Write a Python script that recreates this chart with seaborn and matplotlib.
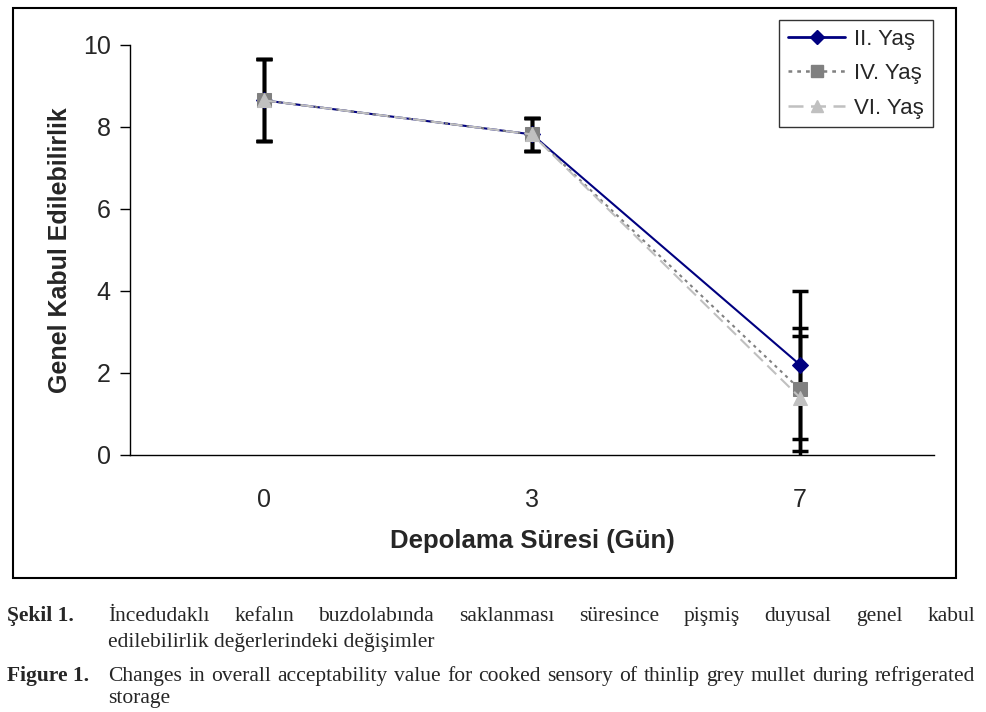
import numpy as np
import pandas as pd
import matplotlib
matplotlib.use("Agg")
import matplotlib.pyplot as plt
import seaborn as sns
from matplotlib.patches import Rectangle
from matplotlib.lines import Line2D

# data
days = ["0", "3", "7"]
series_names = ["II. Yaş", "IV. Yaş", "VI. Yaş"]
ii_vals = [8.65, 7.82, 2.2]
iv_vals = [8.65, 7.82, 1.6]
vi_vals = [8.65, 7.82, 1.4]
ii_err = [1.0, 0.4, 1.8]
iv_err = [1.0, 0.4, 1.5]
vi_err = [1.0, 0.4, 1.5]

caption_tr_1 = "İncedudaklı kefalın buzdolabında saklanması süresince pişmiş duyusal genel kabul"
caption_tr_2 = "edilebilirlik değerlerindeki değişimler"
caption_en_1 = "Changes in overall acceptability value for cooked sensory of thinlip grey mullet during refrigerated"
caption_en_2 = "storage"

sns.set_style("white")
plt.rcParams["font.family"] = ["Liberation Sans", "DejaVu Sans"]

pos = np.arange(len(days)) + 0.5
rows = []
for name, vals in zip(series_names, [ii_vals, iv_vals, vi_vals]):
    for p, v in zip(pos, vals):
        rows.append({"pos": p, "val": v, "seri": name})
df = pd.DataFrame(rows)

colors = {"II. Yaş": "#000080", "IV. Yaş": "#808080", "VI. Yaş": "#C0C0C0"}
markers = {"II. Yaş": "D", "IV. Yaş": "s", "VI. Yaş": "^"}
dashes = {"II. Yaş": "", "IV. Yaş": (1.5, 2.0), "VI. Yaş": (6, 3)}
msize = {"II. Yaş": 8, "IV. Yaş": 10, "VI. Yaş": 10}

fig = plt.figure(figsize=(9.86, 7.12), dpi=100)
W, H = 986, 712
ax = fig.add_axes([130 / W, 1 - 455 / H, (934 - 130) / W, (455 - 45) / H])

# error bars first, behind the markers
for name, vals, err in zip(series_names, [ii_vals, iv_vals, vi_vals], [ii_err, iv_err, vi_err]):
    ax.errorbar(pos, vals, yerr=err, fmt="none", ecolor="black", elinewidth=2.5,
                capsize=5.5, capthick=2.5, zorder=2)

for name in series_names:
    sub = df[df["seri"] == name]
    ls = "-" if name == "II. Yaş" else (0, dashes[name])
    sns.lineplot(data=sub, x="pos", y="val", ax=ax, color=colors[name], linewidth=1.5,
                 linestyle=ls, marker=markers[name], markersize=msize[name],
                 markeredgecolor=colors[name], zorder=3, legend=False)

ax.set_xlim(0, 3)
ax.set_ylim(0, 10)
ax.set_yticks([0, 2, 4, 6, 8, 10])
ax.set_xticks(pos)
ax.set_xticklabels(days)
ax.set_xticks([0, 1, 2, 3], minor=True)
ax.tick_params(axis="x", which="major", length=0, pad=24, labelsize=18)
ax.tick_params(axis="x", which="minor", length=7, width=1, direction="out", color="black")
ax.tick_params(axis="y", length=7, width=1, direction="out", left=True, pad=7, labelsize=18, color="black")
for s in ["top", "right"]:
    ax.spines[s].set_visible(False)
for s in ["left", "bottom"]:
    ax.spines[s].set_color("black")
    ax.spines[s].set_linewidth(1)
ax.set_xlabel("Depolama Süresi (Gün)", fontsize=18.5, fontweight="bold", labelpad=12)
ax.set_ylabel("Genel Kabul Edilebilirlik", fontsize=18, fontweight="bold", labelpad=8)
ax.patch.set_alpha(0)

handles = []
for name in series_names:
    ls = "-" if name == "II. Yaş" else (0, dashes[name])
    handles.append(Line2D([], [], color=colors[name], linewidth=2 if name == "II. Yaş" else 1.8,
                          linestyle=ls, marker=markers[name], markersize=msize[name] - 1,
                          markeredgecolor=colors[name]))
leg = fig.legend(handles, series_names, loc="upper right", bbox_to_anchor=(933 / W, 1 - 20 / H),
                 fontsize=16, frameon=True, fancybox=False, edgecolor="black", handlelength=2.6,
                 borderaxespad=0, labelspacing=0.6, handletextpad=0.4, borderpad=0.4)
leg.get_frame().set_linewidth(1)

# outer chart frame
fig.patches.append(Rectangle((13 / W, 1 - 578 / H), (956 - 13) / W, (578 - 8) / H,
                             transform=fig.transFigure, fill=False, edgecolor="black", linewidth=1.5))

# caption, justified lines
serif = ["Liberation Serif", "DejaVu Serif"]
cap_size = 15.5
fig.canvas.draw()
renderer = fig.canvas.get_renderer()


def justified(text, x0, x1, y, size=cap_size):
    words = text.split(" ")
    arts = [fig.text(0, 0, w, fontsize=size, family=serif, va="baseline") for w in words]
    widths = [a.get_window_extent(renderer).width for a in arts]
    gap = (x1 - x0 - sum(widths)) / max(len(words) - 1, 1)
    x = x0
    for a, w in zip(arts, widths):
        a.set_position((x / W, 1 - y / H))
        x += w + gap


def plain(text, x0, y, size=cap_size, weight="normal"):
    fig.text(x0 / W, 1 - y / H, text, fontsize=size, family=serif, va="baseline", fontweight=weight)


plain("Şekil 1.", 7, 621, weight="bold")
justified(caption_tr_1, 108, 975, 621)
plain(caption_tr_2, 108, 647)
plain("Figure 1.", 7, 681, weight="bold")
justified(caption_en_1, 108, 975, 681)
plain(caption_en_2, 108, 703)

fig.savefig("out.png", dpi=100)
